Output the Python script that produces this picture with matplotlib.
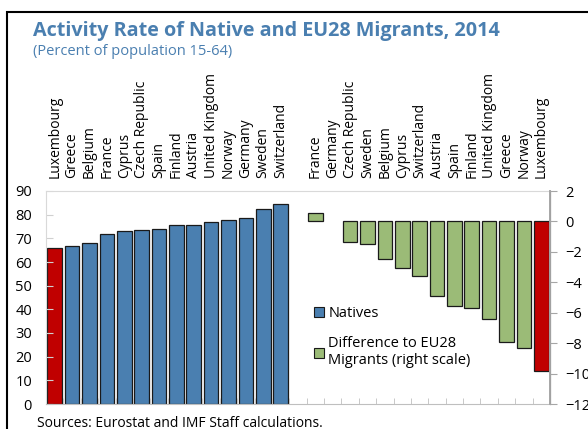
import numpy as np
import matplotlib
matplotlib.use("Agg")
import matplotlib.pyplot as plt
from matplotlib.patches import Patch, Rectangle

plt.rcParams['font.family'] = ['Open Sans', 'DejaVu Sans']

# datos: tasa de actividad de nativos (eje izquierdo)
natives_countries = ["Luxembourg", "Greece", "Belgium", "France", "Cyprus",
                     "Czech Republic", "Spain", "Finland", "Austria",
                     "United Kingdom", "Norway", "Germany", "Sweden", "Switzerland"]
natives = [66.1, 66.9, 68.0, 71.9, 72.9, 73.7, 74.0, 75.6, 75.8,
           76.9, 77.6, 78.7, 82.3, 84.4]

# diferencia con migrantes EU28 (eje derecho)
diff_countries = ["France", "Germany", "Czech Republic", "Sweden", "Belgium",
                  "Cyprus", "Switzerland", "Austria", "Spain", "Finland",
                  "United Kingdom", "Greece", "Norway", "Luxembourg"]
diff = [0.55, 0.0, -1.35, -1.47, -2.47, -3.06, -3.57, -4.92, -5.58, -5.69,
        -6.41, -7.92, -8.31, -9.8]

blue = "#4a7fb0"
green = "#9bbb77"
red = "#c00000"
title_col = "#4a7fb0"

fig = plt.figure(figsize=(5.88, 4.29), dpi=100)
ax = fig.add_axes([46/588, 25/429, 504/588, 213/429])
ax2 = ax.twinx()

n = len(natives)
x1 = np.arange(n)
x2 = np.arange(n) + n + 1

cols1 = [red if c == "Luxembourg" else blue for c in natives_countries]
cols2 = [red if c == "Luxembourg" else green for c in diff_countries]
ax.bar(x1, natives, width=0.84, color=cols1, edgecolor="#1a1a1a", linewidth=0.9)
# las barras con valor 0 no se dibujan
diff_plot = np.where(np.array(diff) == 0, np.nan, diff)
ax2.bar(x2, diff_plot, width=0.84, color=cols2, edgecolor="#1a1a1a", linewidth=0.9)

ax.set_xlim(-0.5, 2*n + 0.5)
ax.set_ylim(0, 90)
ax.set_yticks(range(0, 91, 10))
ax2.set_ylim(-12, 2)
ax2.set_yticks(range(-12, 3, 2))

# etiquetas de paises arriba
ax.set_xticks(list(x1) + list(x2))
ax.set_xticklabels(natives_countries + diff_countries, rotation=90, fontsize=10)
ax.xaxis.tick_top()
ax.tick_params(axis="x", which="major", length=0, pad=9)
ax.set_xticks(np.arange(-0.5, 2*n + 1, 1), minor=True)
ax.tick_params(axis="x", which="minor", bottom=True, top=False, direction="in",
               length=4, color="#bfbfbf")

ax.tick_params(axis="y", direction="in", length=5, color="#d0d0d0",
               labelsize=10.5, pad=10)
ax2.tick_params(axis="y", direction="out", length=5, color="#a6a6a6",
                labelsize=10.5, pad=6)

for s in ["left", "top"]:
    ax.spines[s].set_color("#d9d9d9")
ax.spines["bottom"].set_color("#bfbfbf")
for s in ["left", "top", "bottom"]:
    ax2.spines[s].set_visible(False)
ax2.spines["right"].set_color("#a6a6a6")
ax2.spines["right"].set_linewidth(1.4)

handles = [Patch(facecolor=blue, edgecolor="#1a1a1a", linewidth=0.8),
           Patch(facecolor=green, edgecolor="#1a1a1a", linewidth=0.8)]
fig.legend(handles, ["Natives", "Difference to EU28\nMigrants (right scale)"],
           loc="upper left", bbox_to_anchor=(308/588, 1 - 300/429), frameon=False,
           fontsize=10.5, handlelength=0.7, handleheight=0.7, handletextpad=0.3,
           labelspacing=1.05, borderaxespad=0)

fig.text(33/588, 1 - 21/429, "Activity Rate of Native and EU28 Migrants, 2014",
         fontsize=14.2, fontweight="bold", color=title_col, va="top")
fig.text(33/588, 1 - 44/429, "(Percent of population 15-64)",
         fontsize=10.5, color=title_col, va="top")
fig.text(37/588, 1 - 416/429, "Sources: Eurostat and IMF Staff calculations.",
         fontsize=10, va="top")

fig.patches.append(Rectangle((7/588, -0.05), 1.0, 1 - 11.5/429 + 0.05,
                             transform=fig.transFigure, fill=False,
                             edgecolor="black", linewidth=1.5))

fig.savefig("out.png", dpi=100)
